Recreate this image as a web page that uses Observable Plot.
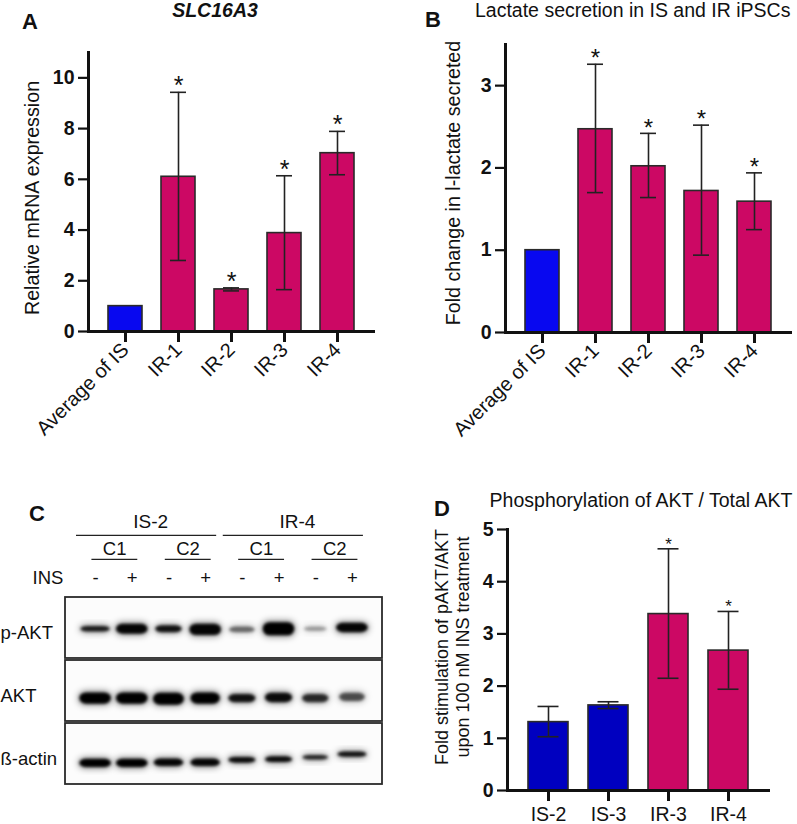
<!DOCTYPE html>
<html><head><meta charset="utf-8">
<script src="https://cdn.jsdelivr.net/npm/d3@7"></script>
<script src="https://cdn.jsdelivr.net/npm/@observablehq/plot@0.6"></script>
<style>
body{margin:0;background:#fff;font-family:"Liberation Sans",Arial,sans-serif;}
#fig{position:relative;width:797px;height:824px;overflow:hidden;background:#fff;}
.p{position:absolute;}
.lbl{position:absolute;white-space:nowrap;color:#111;line-height:1;}
</style></head><body><div id="fig"></div>
<script>
// ---------- DATA ----------
// Panel A: SLC16A3 relative mRNA expression
const catsA = ["Average of IS", "IR-1", "IR-2", "IR-3", "IR-4"];
const groupA = ["IS", "IR", "IR", "IR", "IR"];
const meanA = [1.0, 6.1, 1.66, 3.88, 7.03];
const lowA  = [null, 2.8, 1.6, 1.65, 6.18];
const highA = [null, 9.43, 1.72, 6.14, 7.89];
const starA = [false, true, true, true, true];
const ticksA = [0, 2, 4, 6, 8, 10];

// Panel B: lactate secretion
const catsB = ["Average of IS", "IR-1", "IR-2", "IR-3", "IR-4"];
const groupB = ["IS", "IR", "IR", "IR", "IR"];
const meanB = [1.0, 2.47, 2.02, 1.72, 1.59];
const lowB  = [null, 1.70, 1.64, 0.94, 1.25];
const highB = [null, 3.26, 2.42, 2.52, 1.94];
const starB = [false, true, true, true, true];
const ticksB = [0, 1, 2, 3];

// Panel D: pAKT / AKT
const catsD = ["IS-2", "IS-3", "IR-3", "IR-4"];
const groupD = ["IS", "IS", "IR", "IR"];
const meanD = [1.31, 1.63, 3.38, 2.68];
const lowD  = [1.03, 1.57, 2.15, 1.94];
const highD = [1.61, 1.70, 4.63, 3.43];
const starD = [false, false, true, true];
const ticksD = [0, 1, 2, 3, 4, 5];

// Panel C: western blot
const lanes = [1, 2, 3, 4, 5, 6, 7, 8];
const insulin = ["-", "+", "-", "+", "-", "+", "-", "+"];
const cellLines = [{name: "IS-2", first: 1, last: 4}, {name: "IR-4", first: 5, last: 8}];
const clones = [{name: "C1", first: 1, last: 2}, {name: "C2", first: 3, last: 4},
                {name: "C1", first: 5, last: 6}, {name: "C2", first: 7, last: 8}];
const blotRows = ["p-AKT", "AKT", "ß-actin"];
// band darkness (0-1), band thickness (row units), band width (lane units), migration offset (row units)
const pAktDark  = [0.85, 0.97, 0.9, 0.97, 0.5, 1.0, 0.32, 0.97];
const pAktThick = [0.09, 0.16, 0.11, 0.18, 0.09, 0.21, 0.07, 0.15];
const pAktWidth = [0.8, 0.86, 0.72, 0.86, 0.7, 0.86, 0.62, 0.86];
const pAktShift = [0.02, 0.02, 0.02, 0.03, 0.03, 0.02, 0.02, 0.0];
const aktDark  = [1.0, 1.0, 1.0, 1.0, 0.9, 0.94, 0.78, 0.62];
const aktThick = [0.18, 0.18, 0.19, 0.18, 0.13, 0.15, 0.13, 0.13];
const aktWidth = [0.86, 0.86, 0.84, 0.8, 0.74, 0.74, 0.72, 0.7];
const aktShift = [0.12, 0.12, 0.13, 0.12, 0.12, 0.11, 0.12, 0.10];
const actDark  = [1.0, 1.0, 0.97, 0.97, 0.94, 0.94, 0.82, 0.9];
const actThick = [0.13, 0.13, 0.12, 0.12, 0.09, 0.09, 0.07, 0.08];
const actWidth = [0.86, 0.86, 0.8, 0.8, 0.74, 0.74, 0.7, 0.78];
const actShift = [0.15, 0.15, 0.14, 0.14, 0.10, 0.09, 0.06, 0.01];

// ---------- STYLE ----------
const FONT = '"Liberation Sans", Arial, Helvetica, sans-serif';
const BLUE = "#0808f0", BLUE_D = "#0000c0", MAG = "#cc0864";
const fig = document.getElementById("fig");

function place(el, left, top) {
  const wrap = document.createElement("div");
  wrap.className = "p";
  wrap.style.left = left + "px"; wrap.style.top = top + "px";
  wrap.appendChild(el); fig.appendChild(wrap);
}
function label(text, left, top, size, extra) {
  const d = document.createElement("div");
  d.className = "lbl"; d.textContent = text;
  d.style.left = left + "px"; d.style.top = top + "px"; d.style.fontSize = size + "px";
  Object.assign(d.style, extra || {});
  fig.appendChild(d);
}

function rows(cats, groups, mean, low, high, star) {
  return cats.map((c, i) => ({cat: c, g: groups[i], v: mean[i], lo: low[i], hi: high[i], star: star[i]}));
}

function barPanel(o) {
  const d = o.data;
  const errs = d.filter(r => r.lo != null);
  const ebar = {stroke: "#222", strokeWidth: 1.6};
  return Plot.plot({
    width: o.width, height: o.height,
    marginTop: o.mt, marginRight: o.mr, marginBottom: o.mb, marginLeft: o.ml,
    style: {background: "transparent", fontFamily: FONT, color: "#111", overflow: "visible"},
    x: {type: "band", domain: d.map(r => r.cat), paddingInner: o.pi, paddingOuter: o.po, label: null},
    y: {domain: o.yDomain, label: null},
    color: {domain: ["IS", "IR"], range: o.colors},
    marks: [
      Plot.barY(d, {x: "cat", y: "v", fill: "g", stroke: "#2a2a2a", strokeWidth: 1.6}),
      Plot.ruleX(errs, {x: "cat", y1: "lo", y2: "hi", ...ebar}),
      Plot.tickY(errs, {x: "cat", y: "hi", inset: o.capInset, ...ebar}),
      Plot.tickY(errs, {x: "cat", y: "lo", inset: o.capInset, ...ebar}),
      Plot.text(d.filter(r => r.star), {x: "cat", y: "hi", text: () => "*", fontSize: o.starSize, dy: o.starDy, fill: "#111"}),
      Plot.axisY({ticks: o.yTicks, tickFormat: d3.format("d"), tickSize: 10, tickPadding: 4, strokeWidth: 2.2, fontSize: 19.5, fontWeight: "bold", label: null}),
      Plot.axisX({tickSize: 11, tickPadding: o.txPad, strokeWidth: 3, fontSize: o.fxt, tickRotate: o.rot, label: null}),
      Plot.ruleY([0], {strokeWidth: 3, stroke: "#111"}),
      Plot.frame({anchor: "left", strokeWidth: 3, stroke: "#111"}),
      Plot.text([o.yLabel], {frameAnchor: "left", textAnchor: "middle", rotate: -90, dx: o.ylDx, dy: o.ylDy, fontSize: o.fyl, lineHeight: o.lh || 1.15, text: t => t, fill: "#111"})
    ]
  });
}

// ---------- PANEL A ----------
place(barPanel({
  data: rows(catsA, groupA, meanA, lowA, highA, starA),
  width: 400, height: 460, mt: 52, mr: 25, mb: 129, ml: 88,
  pi: 0.35, po: 0.35, yDomain: [0, 11], yTicks: ticksA, colors: [BLUE, MAG],
  capInset: 9, starSize: 25, starDy: -6, txPad: 4, fxt: 20, rot: -45,
  yLabel: "Relative mRNA expression", ylDx: -57, ylDy: 6, fyl: 19.7
}), 0, 0);

// ---------- PANEL B ----------
place(barPanel({
  data: rows(catsB, groupB, meanB, lowB, highB, starB),
  width: 397, height: 460, mt: 44, mr: 5, mb: 128, ml: 105,
  pi: 0.35, po: 0.35, yDomain: [0, 3.5], yTicks: ticksB, colors: [BLUE, MAG],
  capInset: 9, starSize: 24, starDy: -5.5, txPad: 4, fxt: 20, rot: -45,
  yLabel: "Fold change in l-lactate secreted", ylDx: -52.5, ylDy: -5.5, fyl: 19.7
}), 400, 0);

// ---------- PANEL D ----------
place(barPanel({
  data: rows(catsD, groupD, meanD, lowD, highD, starD),
  width: 397, height: 404, mt: 109, mr: 27, mb: 34, ml: 107,
  pi: 0.333, po: 0.35, yDomain: [0, 5], yTicks: ticksD, colors: [BLUE_D, MAG],
  capInset: 9.5, starSize: 17, starDy: -4.5, txPad: 6, fxt: 19.5, rot: 0,
  yLabel: "Fold stimulation of pAKT/AKT\nupon 100 nM INS treatment", ylDx: -55.5, ylDy: -13, fyl: 18, lh: 1.17
}), 400, 420);

// ---------- PANEL C (western blot) ----------
const bands = [];
const bandSets = [[pAktDark, pAktThick, pAktWidth, pAktShift], [aktDark, aktThick, aktWidth, aktShift], [actDark, actThick, actWidth, actShift]];
bandSets.forEach(([dk, th, wd, sh], r) => lanes.forEach((l, i) => bands.push({row: r, lane: l, dark: dk[i], h: th[i], w: wd[i], off: sh[i]})));
const boxRows = blotRows.map((name, r) => ({name, row: r}));
const HB = 0.484; // half height of a blot strip (row units)
const HALO = "#010101", CORE = "#000002";

const blot = Plot.plot({
  width: 400, height: 320, marginLeft: 65, marginRight: 18, marginTop: 0, marginBottom: 0,
  style: {background: "transparent", fontFamily: FONT, color: "#111", overflow: "visible"},
  x: {domain: [0.18, 8.82], axis: null},
  y: {domain: [-2.341, 2.738], range: [0, 320], axis: null},
  marks: [
    Plot.rect(boxRows, {y1: d => d.row - HB, y2: d => d.row + HB, fill: "#fcfcfc", stroke: "#2a2a2a", strokeWidth: 1.8}),
    Plot.rect(bands, {x1: d => d.lane - d.w * 0.55, x2: d => d.lane + d.w * 0.55,
      y1: d => d.row + d.off - d.h / 2 - 0.03, y2: d => d.row + d.off + d.h / 2 + 0.03,
      fill: HALO, fillOpacity: d => d.dark * 0.4, rx: 8}),
    Plot.rect(bands, {x1: d => d.lane - d.w / 2, x2: d => d.lane + d.w / 2,
      y1: d => d.row + d.off - d.h / 2, y2: d => d.row + d.off + d.h / 2,
      fill: CORE, fillOpacity: d => d.dark, rx: 7}),
    Plot.text(boxRows, {frameAnchor: "left", y: d => d.row + 0.08, text: "name", dx: -65, textAnchor: "start", fontSize: 18.5}),
    Plot.text(cellLines, {x: d => (d.first + d.last) / 2, y: () => -1.68, text: "name", fontSize: 19}),
    Plot.ruleY(cellLines, {x1: d => d.first - 0.52, x2: d => d.last + 0.3, y: () => -1.47, stroke: "#222", strokeWidth: 1.3}),
    Plot.text(clones, {x: d => (d.first + d.last) / 2 + 0.02, y: () => -1.26, text: "name", fontSize: 18.5}),
    Plot.ruleY(clones, {x1: d => d.first - 0.1, x2: d => d.last + 0.15, y: () => -1.09, stroke: "#222", strokeWidth: 1.3}),
    Plot.text(["INS"], {frameAnchor: "left", y: () => -0.8, dx: -33, textAnchor: "start", text: t => t, fontSize: 18.5}),
    Plot.text(lanes, {x: l => l, y: () => -0.8, text: (l, i) => insulin[i], fontSize: 18.5})
  ]
});
const svgNode = blot.tagName.toLowerCase() === "svg" ? blot : blot.querySelector("svg");
const svgC = d3.select(svgNode);
const defs = svgC.insert("defs", ":first-child");
defs.append("filter").attr("id", "bandBlur").attr("x", "-50%").attr("y", "-50%").attr("width", "200%").attr("height", "200%")
  .append("feGaussianBlur").attr("stdDeviation", 1.6);
defs.append("filter").attr("id", "haloBlur").attr("x", "-50%").attr("y", "-50%").attr("width", "200%").attr("height", "200%")
  .append("feGaussianBlur").attr("stdDeviation", 3);
function blurRects(color, fid) {
  svgC.selectAll("rect").filter(function() {
    const own = (this.getAttribute("fill") || "").toLowerCase();
    const par = (this.parentNode.getAttribute("fill") || "").toLowerCase();
    return own === color || par === color;
  }).attr("filter", "url(#" + fid + ")");
}
blurRects(CORE, "bandBlur");
blurRects(HALO, "haloBlur");
place(blot, 0, 480);

// ---------- TITLES & PANEL LETTERS ----------
const bold = {fontWeight: "bold"};
label("A", 22, 11.4, 22, bold);
label("SLC16A3", 215, 1, 19.5, {fontWeight: "bold", fontStyle: "italic", transform: "translateX(-50%)"});
label("B", 425, 9.4, 22, bold);
label("Lactate secretion in IS and IR iPSCs", 475, 1, 19.5);
label("C", 29, 503.4, 22, bold);
label("D", 434, 498.4, 22, bold);
label("Phosphorylation of AKT / Total AKT", 641, 490.5, 19.5, {transform: "translateX(-50%)"});
</script></body></html>
